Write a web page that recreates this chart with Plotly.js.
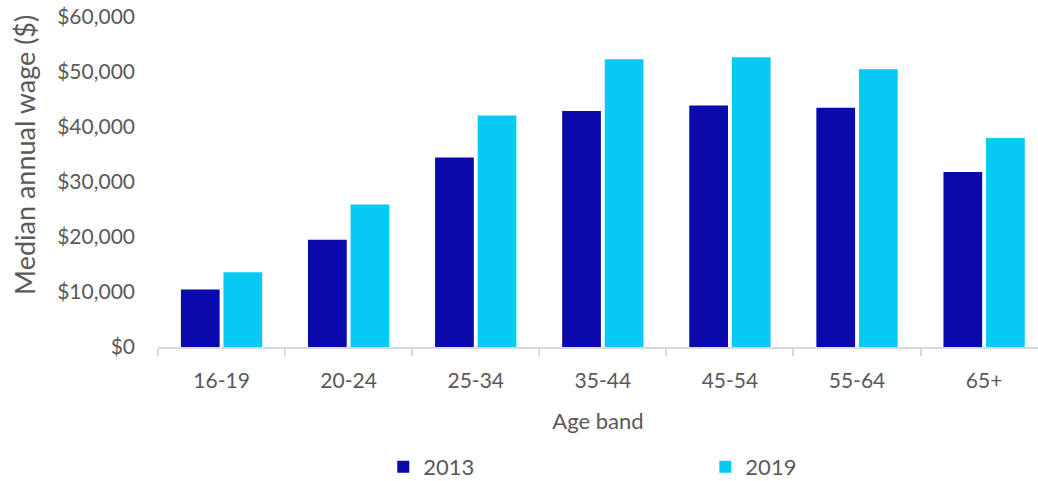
<!DOCTYPE html>
<html>
<head>
<meta charset="utf-8">
<script src="https://cdn.plot.ly/plotly-3.0.1.min.js"></script>
<style>html,body{margin:0;padding:0;background:#fff;}#chart{width:1038px;height:481px;}</style>
</head>
<body>
<div id="chart"></div>
<script>
const categories = ["16-19", "20-24", "25-34", "35-44", "45-54", "55-64", "65+"];
const wages2013 = [10450, 19500, 34450, 42900, 43900, 43500, 31800];
const wages2019 = [13600, 25900, 42100, 52300, 52700, 50500, 38000];
const yTickVals = [0, 10000, 20000, 30000, 40000, 50000, 60000];
const yTickText = ["$0", "$10,000", "$20,000", "$30,000", "$40,000", "$50,000", "$60,000"];

const FONT = "Lato, 'Open Sans', sans-serif";
const TXT = "#595959";

const traces = [
  {type: "bar", name: "2013", x: categories, y: wages2013, marker: {color: "#0909AC"}, legend: "legend"},
  {type: "bar", name: "2019", x: categories, y: wages2019, marker: {color: "#06CAF3"}, legend: "legend2"}
];

const legendBase = {orientation: "h", xanchor: "left", yref: "container", y: 0.029, yanchor: "middle",
                    font: {size: 22, color: TXT}, bgcolor: "rgba(0,0,0,0)"};

const layout = {
  width: 1038, height: 481,
  margin: {l: 158, r: 0, t: 17, b: 134},
  paper_bgcolor: "#fff", plot_bgcolor: "#fff",
  font: {family: FONT, color: TXT, size: 21},
  barmode: "group", bargap: 0.33, bargroupgap: 0.09,
  showlegend: true,
  legend: Object.assign({x: 0.256}, legendBase),
  legend2: Object.assign({x: 0.622}, legendBase),
  xaxis: {
    range: [-0.5, 6.424], automargin: false,
    showline: true, linecolor: "#d9d9d9", linewidth: 2,
    ticks: "outside", tickson: "boundaries", ticklen: 7, tickcolor: "#d9d9d9", tickwidth: 2,
    showgrid: false, zeroline: false,
    tickfont: {size: 21, color: TXT},
    ticklabelstandoff: 14,
    title: {text: "Age band", font: {size: 22, color: TXT}, standoff: 22}
  },
  yaxis: {
    range: [0, 60000], automargin: false,
    tickvals: yTickVals, ticktext: yTickText,
    showgrid: false, zeroline: false, showline: false, ticks: "",
    tickfont: {size: 21, color: TXT},
    ticklabelstandoff: 22
  },
  annotations: [{
    text: "Median annual wage ($)", textangle: -90, showarrow: false,
    xref: "paper", yref: "paper", x: -0.1511, y: 0.582, xanchor: "center", yanchor: "middle",
    font: {size: 27, color: TXT, family: FONT}
  }]
};

Plotly.newPlot("chart", traces, layout, {displayModeBar: false, staticPlot: true});
</script>
</body>
</html>
